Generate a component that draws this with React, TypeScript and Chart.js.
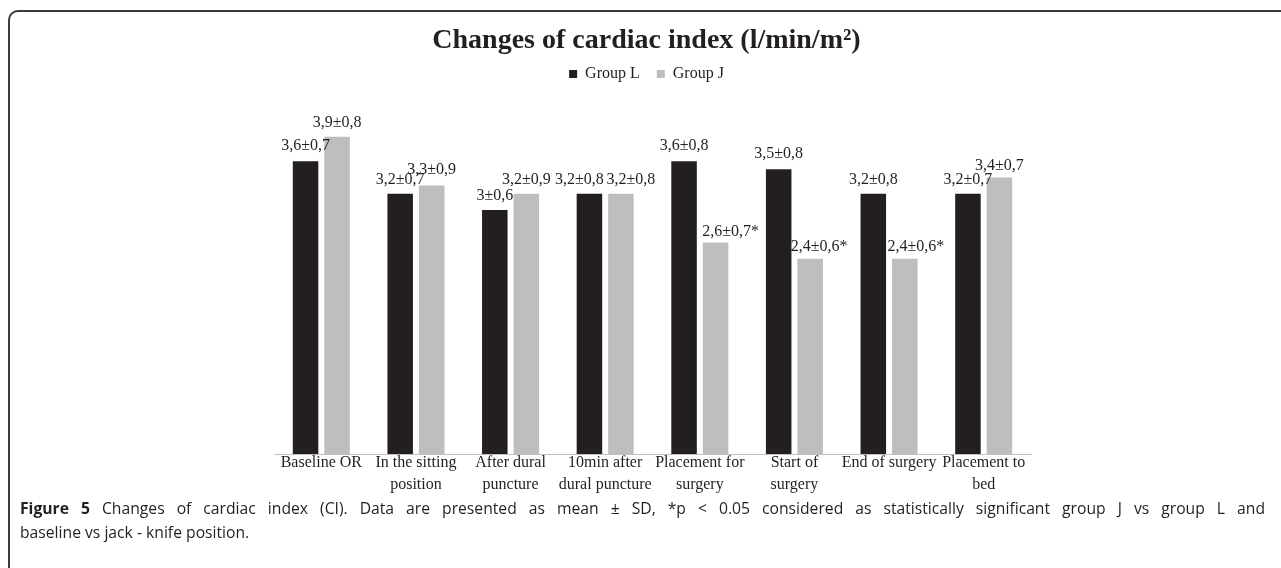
import React, { useEffect, useRef } from "react";
import { Chart, registerables } from "chart.js";

Chart.register(...registerables);

const titleText = "Changes of cardiac index (l/min/m²)";
const seriesNames = ["Group L", "Group J"];

const categories: (string | string[])[] = [
  "Baseline OR",
  ["In the sitting", "position"],
  ["After dural", "puncture"],
  ["10min after", "dural puncture"],
  ["Placement for", "surgery"],
  ["Start of", "surgery"],
  "End of surgery",
  ["Placement to", "bed"],
];

const groupLMean = [3.6, 3.2, 3.0, 3.2, 3.6, 3.5, 3.2, 3.2];
const groupLSD = [0.7, 0.7, 0.6, 0.8, 0.8, 0.8, 0.8, 0.7];
const groupJMean = [3.9, 3.3, 3.2, 3.2, 2.6, 2.4, 2.4, 3.4];
const groupJSD = [0.8, 0.9, 0.9, 0.8, 0.7, 0.6, 0.6, 0.7];
const groupJSignificant = [false, false, false, false, true, true, true, false];

const captionLine1 =
  "Changes of cardiac index (CI). Data are presented as mean ± SD, *p < 0.05 considered as statistically significant group J vs group L and";
const captionLine2 = "baseline vs jack - knife position.";

// label placement nudges (style only, in px), as the labels were moved in the original figure
const labelNudgeX = [
  [0, 0, 0, -10, 0, 0, 0, 0],
  [0, 0, 0, 10, 15, 9, 11, 0],
];
const labelGapY = [
  [11, 10, 10, 10, 11, 11, 10, 10],
  [10, 12, 10, 10, 6, 8, 8, 7],
];

const fmt = (v: number) => String(v).replace(".", ",");
const groupLLabels = groupLMean.map((m, i) => `${fmt(m)}±${fmt(groupLSD[i])}`);
const groupJLabels = groupJMean.map(
  (m, i) => `${fmt(m)}±${fmt(groupJSD[i])}${groupJSignificant[i] ? "*" : ""}`
);

const TEXT = "#231f20";
const SERIF = "'Liberation Serif', 'Times New Roman', serif";

const valueLabelPlugin = {
  id: "valueLabels",
  afterDatasetsDraw(chart: any) {
    const ctx = chart.ctx;
    const allLabels = [groupLLabels, groupJLabels];
    ctx.save();
    ctx.font = `16px ${SERIF}`;
    ctx.fillStyle = TEXT;
    ctx.textAlign = "center";
    ctx.textBaseline = "alphabetic";
    chart.data.datasets.forEach((_ds: any, di: number) => {
      const meta = chart.getDatasetMeta(di);
      meta.data.forEach((bar: any, i: number) => {
        const t = allLabels[di][i];
        ctx.fillText(t, bar.x + labelNudgeX[di][i], bar.y - labelGapY[di][i]);
      });
    });
    ctx.restore();
  },
};

export default function App() {
  const canvasRef = useRef<HTMLCanvasElement | null>(null);

  useEffect(() => {
    if (!canvasRef.current) return;
    const chart = new Chart(canvasRef.current, {
      type: "bar",
      data: {
        labels: categories as any,
        datasets: [
          {
            label: seriesNames[0],
            data: groupLMean,
            backgroundColor: "#231f20",
            borderWidth: 0,
            categoryPercentage: 0.666,
            barPercentage: 0.81,
          },
          {
            label: seriesNames[1],
            data: groupJMean,
            backgroundColor: "#bcbec0",
            borderWidth: 0,
            categoryPercentage: 0.666,
            barPercentage: 0.81,
          },
        ],
      },
      options: {
        responsive: false,
        animation: false,
        devicePixelRatio: 1,
        layout: { padding: { top: 0, left: 262, right: 250, bottom: 74 } },
        plugins: {
          title: {
            display: true,
            text: titleText,
            color: TEXT,
            font: { family: SERIF, size: 28, weight: "bold", lineHeight: 1 },
            padding: { top: 27, bottom: -6 },
          },
          legend: {
            display: true,
            position: "top",
            labels: {
              color: TEXT,
              font: { family: SERIF, size: 16 },
              boxWidth: 8,
              boxHeight: 8,
              padding: 17,
            },
          },
          tooltip: { enabled: false },
        },
        scales: {
          x: {
            grid: { display: false, drawTicks: false },
            border: { display: true, color: "#bfbfbf", width: 1 },
            ticks: {
              color: TEXT,
              font: { family: SERIF, size: 16, lineHeight: 1.375 },
              padding: -2,
              maxRotation: 0,
              autoSkip: false,
            },
          },
          y: {
            display: true,
            min: 0,
            max: 4.45,
            grid: { display: false, drawTicks: false },
            border: { display: false },
            ticks: { display: false },
            afterFit: (s: any) => {
              s.width = 12;
            },
          },
        },
      },
      plugins: [valueLabelPlugin],
    });
    return () => chart.destroy();
  }, []);

  const captionStyle: React.CSSProperties = {
    position: "absolute",
    left: 20,
    width: 1245,
    fontFamily: "'Open Sans', sans-serif",
    fontSize: 15.7,
    lineHeight: "24px",
    color: TEXT,
    whiteSpace: "nowrap",
  };

  return (
    <div
      style={{
        position: "fixed",
        left: 0,
        top: 0,
        width: 1281,
        height: 568,
        overflow: "hidden",
        background: "#fff",
      }}
    >
      <canvas
        ref={canvasRef}
        width={1281}
        height={568}
        style={{ position: "absolute", left: 0, top: 0, width: 1281, height: 568 }}
      />
      <div
        style={{
          position: "absolute",
          left: 8,
          top: 10,
          width: 1400,
          height: 700,
          border: "2px solid #3a3a3a",
          borderTopLeftRadius: 10,
          boxSizing: "border-box",
          pointerEvents: "none",
        }}
      />
      <div style={{ ...captionStyle, top: 496, textAlign: "justify", textAlignLast: "justify" }}>
        <b>Figure 5</b> {captionLine1}
      </div>
      <div style={{ ...captionStyle, top: 520 }}>{captionLine2}</div>
    </div>
  );
}
